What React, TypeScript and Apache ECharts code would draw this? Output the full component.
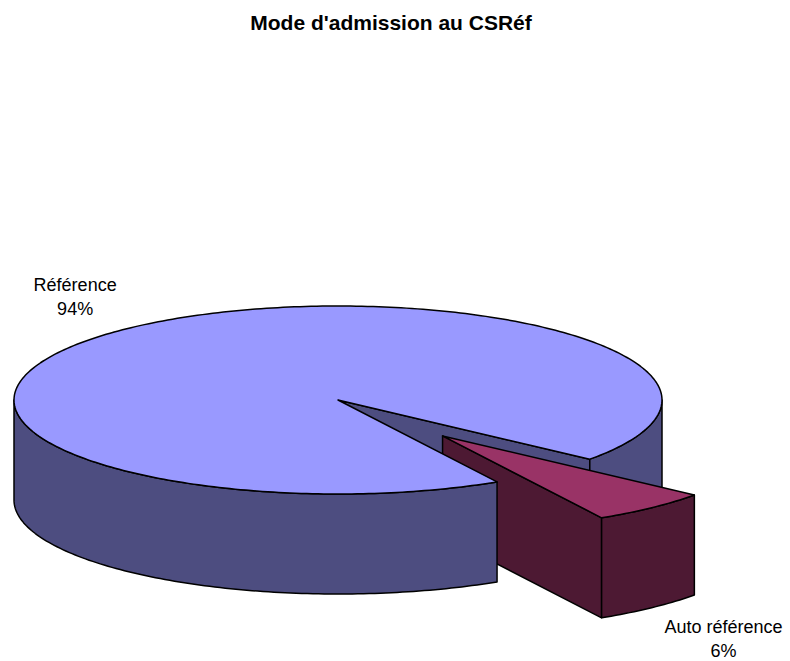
import React, { useEffect, useRef } from 'react';
import * as echarts from 'echarts';

// Admission modes and their shares (%)
const categories: string[] = ['Référence', 'Auto référence'];
const values: number[] = [94, 6];
// How far each slice is pulled out of the pie (fraction of the radius)
const explode: number[] = [0, 0.5];

const titleText = "Mode d'admission au CSRéf";

const topColors = ['#9999FF', '#993366'];
const sideColors = ['#4D4D80', '#4D1933'];

// Pie geometry (pixels): centre, horizontal/vertical radii of the tilted disc, thickness
const CX = 338;
const CY = 400;
const RX = 324;
const RY = 94;
const DEPTH = 100;
const START_DEG = 60.6;
const FONT = "'Liberation Sans', Arial, Helvetica, sans-serif";

const Z_TOP = 1000;
const Z_LABEL = 2000;

const rad = (d: number) => (d * Math.PI) / 180;

function rim(ox: number, oy: number, deg: number, dy = 0): number[] {
  return [ox + RX * Math.cos(rad(deg)), oy + RY * Math.sin(rad(deg)) + dy];
}

function arc(ox: number, oy: number, a0: number, a1: number, dy = 0): number[][] {
  const pts: number[][] = [];
  const n = Math.max(2, Math.ceil(Math.abs(a1 - a0)));
  for (let k = 0; k <= n; k++) {
    pts.push(rim(ox, oy, a0 + ((a1 - a0) * k) / n, dy));
  }
  return pts;
}

const down = (p: number[]) => [p[0], p[1] + DEPTH];

interface SliceGeom {
  a0: number;
  a1: number;
  mid: number;
  ox: number;
  oy: number;
}
interface Face {
  slice: number;
  top: number[][];
  z: number;
}

// Angles and (exploded) centres of every slice
function sliceGeometry(vals: number[]): SliceGeom[] {
  const total = vals.reduce((s, v) => s + v, 0);
  let acc = 0;
  return vals.map((v, i) => {
    const a0 = START_DEG + (360 * acc) / total;
    acc += v;
    const a1 = START_DEG + (360 * acc) / total;
    const mid = (a0 + a1) / 2;
    return {
      a0,
      a1,
      mid,
      ox: CX + explode[i] * RX * Math.cos(rad(mid)),
      oy: CY + explode[i] * RY * Math.sin(rad(mid)),
    };
  });
}

// Screen y of a face's top edge at a given x (larger y = closer to the viewer)
function topYAt(pts: number[][], x: number): number {
  for (let k = 0; k < pts.length - 1; k++) {
    const [x0, y0] = pts[k];
    const [x1, y1] = pts[k + 1];
    const lo = Math.min(x0, x1);
    const hi = Math.max(x0, x1);
    if (x >= lo - 1e-6 && x <= hi + 1e-6) {
      if (Math.abs(x1 - x0) < 1e-9) return Math.max(y0, y1);
      return y0 + ((y1 - y0) * (x - x0)) / (x1 - x0);
    }
  }
  return NaN;
}

// All visible vertical faces (radial cuts and outer walls), depth-sorted
function buildFaces(geo: SliceGeom[]): Face[] {
  const faces: Face[] = [];
  geo.forEach((g, i) => {
    const cut = (deg: number) => {
      faces.push({ slice: i, top: [[g.ox, g.oy], rim(g.ox, g.oy, deg)], z: 0 });
    };
    if (Math.cos(rad(g.a0)) < 0) cut(g.a0);
    if (Math.cos(rad(g.a1)) > 0) cut(g.a1);
    for (const [lo, hi] of [[0, 180], [360, 540]]) {
      const s = Math.max(g.a0, lo);
      const t = Math.min(g.a1, hi);
      if (t > s) faces.push({ slice: i, top: arc(g.ox, g.oy, s, t), z: 0 });
    }
  });

  const xr = (f: Face) => {
    const xs = f.top.map((p) => p[0]);
    return [Math.min(...xs), Math.max(...xs)];
  };
  // behind[b] lists faces that must be painted before face b
  const behind: number[][] = faces.map(() => []);
  for (let a = 0; a < faces.length; a++) {
    for (let b = a + 1; b < faces.length; b++) {
      const [la, ha] = xr(faces[a]);
      const [lb, hb] = xr(faces[b]);
      const lo = Math.max(la, lb);
      const hi = Math.min(ha, hb);
      if (hi - lo < 1) continue;
      const x = (lo + hi) / 2;
      const ya = topYAt(faces[a].top, x);
      const yb = topYAt(faces[b].top, x);
      if (ya > yb) behind[a].push(b);
      else behind[b].push(a);
    }
  }
  const done = new Set<number>();
  let order = 0;
  while (done.size < faces.length) {
    let pick = -1;
    for (let k = 0; k < faces.length; k++) {
      if (!done.has(k) && behind[k].every((j) => done.has(j))) {
        pick = k;
        break;
      }
    }
    if (pick < 0) pick = faces.findIndex((_, k) => !done.has(k));
    faces[pick].z = order++;
    done.add(pick);
  }
  return faces;
}

const geometry = sliceGeometry(values);
const faces = buildFaces(geometry);

const LINE = { stroke: '#000', lineWidth: 1.5, lineJoin: 'round' };

function renderSlice(params: any, api: any) {
  const i = params.dataIndex;
  const g = geometry[i];
  const children: any[] = [];

  for (const f of faces) {
    if (f.slice !== i) continue;
    children.push({
      type: 'polygon',
      z2: f.z,
      shape: { points: f.top.concat(f.top.slice().reverse().map(down)) },
      style: { fill: sideColors[i], ...LINE },
    });
  }

  // Top face
  children.push({
    type: 'polygon',
    z2: Z_TOP + i,
    shape: { points: [[g.ox, g.oy]].concat(arc(g.ox, g.oy, g.a0, g.a1)) },
    style: { fill: topColors[i], ...LINE },
  });

  // Data label outside the slice
  const sm = Math.sin(rad(g.mid));
  const lx = g.ox + 1.3 * RX * Math.cos(rad(g.mid)) + 9;
  const ly = g.oy + 1.44 * RY * sm + (sm > 0 ? DEPTH : 0);
  children.push({
    type: 'text',
    z2: Z_LABEL,
    x: lx,
    y: ly,
    style: {
      text: `${categories[i]}\n${api.value(0)}%`,
      fill: '#000',
      fontSize: 18,
      fontFamily: FONT,
      lineHeight: 24,
      align: 'center',
      verticalAlign: 'middle',
    },
  });

  return { type: 'group', children };
}

export default function App() {
  const ref = useRef<HTMLDivElement>(null);

  useEffect(() => {
    document.body.style.margin = '0';
    const chart = echarts.init(ref.current!, undefined, { renderer: 'svg' });
    chart.setOption({
      animation: false,
      backgroundColor: '#fff',
      graphic: [
        {
          type: 'text',
          x: 391,
          y: 22,
          style: {
            text: titleText,
            fill: '#000',
            fontSize: 21,
            fontWeight: 'bold',
            fontFamily: FONT,
            align: 'center',
            verticalAlign: 'middle',
          },
        },
      ],
      series: [
        {
          type: 'custom',
          coordinateSystem: 'none',
          renderItem: renderSlice,
          data: values.map((v, k) => ({ name: categories[k], value: [v] })),
        },
      ],
    });
    return () => chart.dispose();
  }, []);

  return <div ref={ref} style={{ width: 790, height: 661 }} />;
}
